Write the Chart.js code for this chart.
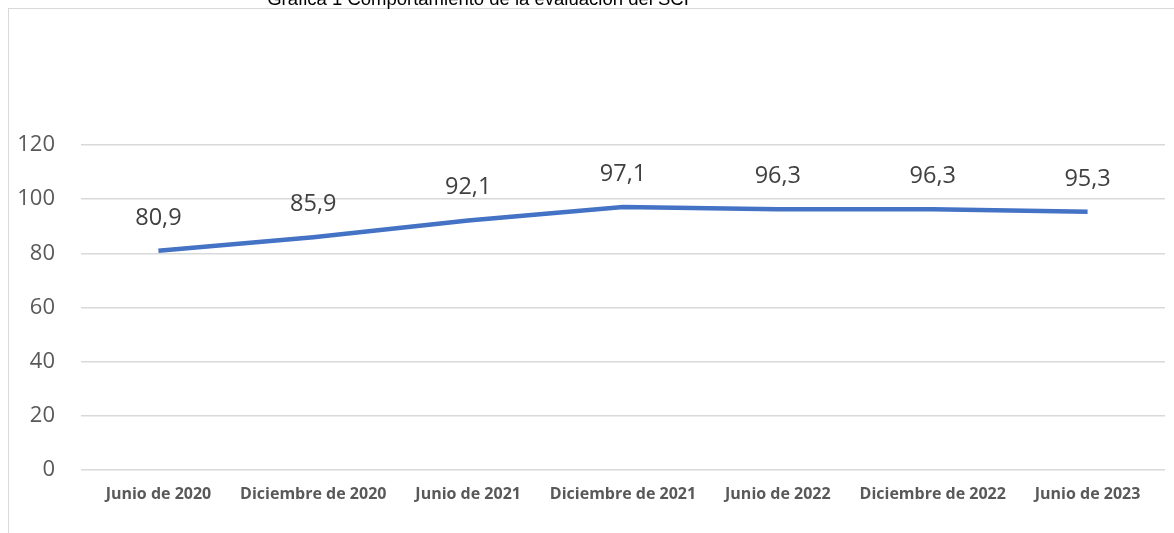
<!DOCTYPE html>
<html>
<head>
<meta charset="utf-8">
<script src="https://cdn.jsdelivr.net/npm/chart.js@4"></script>
<style>
  html, body { margin: 0; padding: 0; background: #fff; overflow: hidden; }
  #wrap { position: relative; width: 1174px; height: 533px; }
  #marco { position: absolute; left: 8px; top: 8px; width: 1300px; height: 700px; border: 1px solid #d9d9d9; box-sizing: border-box; }
  #titulo { position: absolute; left: 0; width: 956px; top: -12.5px; text-align: center;
            font-family: "Liberation Sans", Arial, sans-serif; font-size: 18.5px; color: #000; white-space: nowrap; }
  canvas { position: absolute; left: 0; top: 0; }
</style>
</head>
<body>
<div id="wrap">
  <div id="marco"></div>
  <canvas id="grafica" width="1174" height="533"></canvas>
  <div id="titulo">Gráfica 1 Comportamiento de la evaluación del SCI</div>
</div>
<script>
// datos de la grafica
var categorias = ["Junio de 2020", "Diciembre de 2020", "Junio de 2021", "Diciembre de 2021", "Junio de 2022", "Diciembre de 2022", "Junio de 2023"];
var valores = [80.9, 85.9, 92.1, 97.1, 96.3, 96.3, 95.3];
var ticksY = [0, 20, 40, 60, 80, 100, 120];

// etiquetas de datos encima de cada punto
var etiquetas = {
    id: 'etiquetas',
    afterDatasetsDraw: function(chart) {
        var ctx = chart.ctx;
        var meta = chart.getDatasetMeta(0);
        ctx.save();
        ctx.font = '23.5px "Open Sans"';
        ctx.fillStyle = '#404040';
        ctx.textAlign = 'center';
        ctx.textBaseline = 'middle';
        meta.data.forEach(function(p, i) {
            var txt = valores[i].toFixed(1).replace('.', ',');
            ctx.fillText(txt, p.x, p.y - 33);
        });
        ctx.restore();
    }
};

var ctx = document.getElementById('grafica').getContext('2d');
var grafica = new Chart(ctx, {
    type: 'line',
    data: {
        labels: categorias,
        datasets: [{
            data: valores,
            borderColor: '#4472C4',
            borderWidth: 4.5,
            pointRadius: 0,
            tension: 0,
            fill: false
        }]
    },
    options: {
        responsive: false,
        animation: false,
        layout: { padding: { top: 145, right: 9, left: 0, bottom: 14 } },
        plugins: {
            legend: { display: false },
            tooltip: { enabled: false }
        },
        scales: {
            x: {
                offset: true,
                grid: { display: false, drawTicks: false },
                border: { display: false },
                ticks: {
                    padding: 15,
                    color: '#595959',
                    maxRotation: 0,
                    font: { family: '"Open Sans"', size: 16, weight: 'bold' }
                }
            },
            y: {
                min: ticksY[0],
                max: ticksY[ticksY.length - 1],
                afterBuildTicks: function(axis) {
                    axis.ticks = ticksY.map(function(v) { return { value: v }; });
                },
                afterFit: function(axis) { axis.width = 81; },
                grid: { color: '#d9d9d9', lineWidth: 1.5, drawTicks: false },
                border: { display: false },
                ticks: {
                    padding: 26,
                    color: '#595959',
                    font: { family: '"Open Sans"', size: 22 }
                }
            }
        }
    },
    plugins: [etiquetas]
});
</script>
</body>
</html>
